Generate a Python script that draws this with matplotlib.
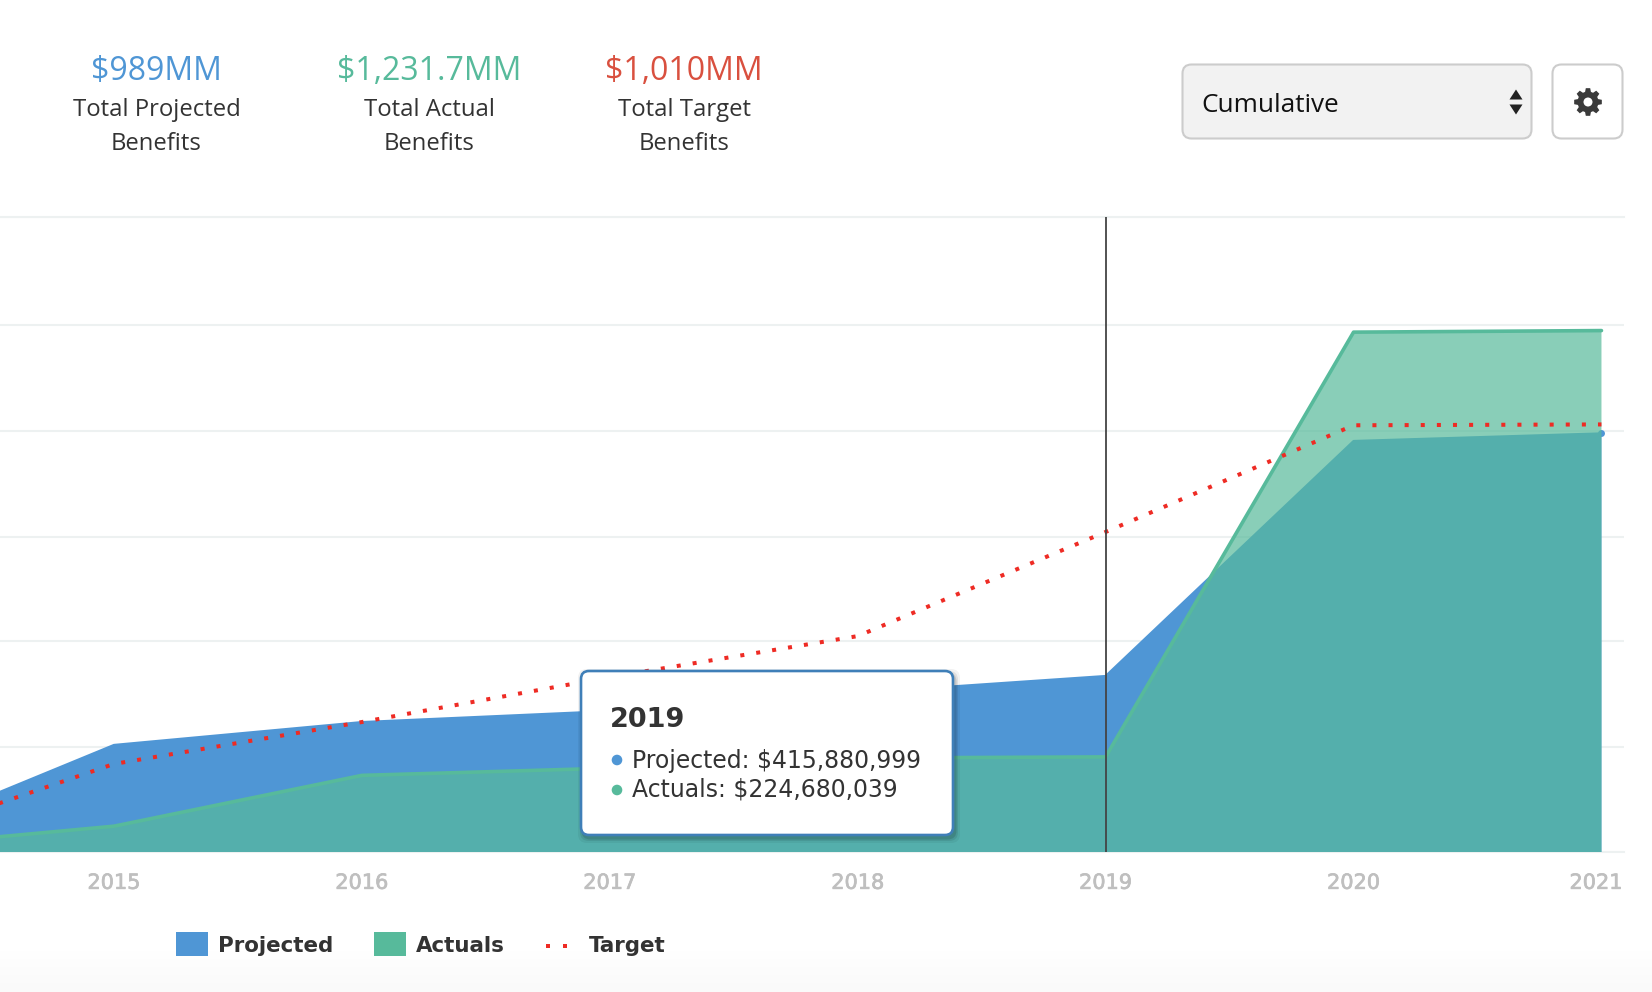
import numpy as np
import matplotlib
matplotlib.use('Agg')
import matplotlib.pyplot as plt
import matplotlib.patheffects as pe
from matplotlib.patches import FancyBboxPatch, Rectangle, Circle, Polygon, PathPatch
from matplotlib.path import Path
from matplotlib.transforms import ScaledTranslation

# yearly cumulative benefits in $MM, 2014 sits just off the left edge of the plot
years = [2014, 2015, 2016, 2017, 2018, 2019, 2020, 2021]
projected = [12, 253, 307, 333, 376, 415.880999, 971, 989]
actuals = [7, 61, 181, 198, 222, 224.680039, 1228, 1231.7]
target = [7, 208, 307, 413, 510, 756, 1008, 1010]

tick_years = [2015, 2016, 2017, 2018, 2019, 2020, 2021]
grid_values = [0, 248, 498, 744, 994, 1245, 1500]
hover_year = 2019

BLUE = '#4f96d5'
GREEN = '#57ba9b'
RED = '#ee2b24'
DARK = '#333333'
HEAD_FONT = 'Open Sans'
W, H = 1652, 992

fig = plt.figure(figsize=(W / 100, H / 100), dpi=100, facecolor='white')

# faint grey fade along the bottom of the page
bg = fig.add_axes([0, 0, 1, 1], zorder=0)
bg.axis('off')
fade = np.concatenate([np.zeros(950), np.linspace(0, 1, 42)]).reshape(-1, 1)
bg.imshow(fade, cmap=matplotlib.colors.LinearSegmentedColormap.from_list('fade', ['#ffffff', '#fafafa']),
          aspect='auto', extent=(0, W, H, 0), vmin=0, vmax=1)

# main area chart
ax = fig.add_axes([0, (H - 852) / H, 1624 / W, 635 / H], zorder=1)
ax.patch.set_alpha(0)
px_per_year = 247.6
ax.set_xlim(2015 - 113.8 / px_per_year, 2021 + 22.5 / px_per_year)
ax.set_ylim(0, 1500)
for side in ax.spines.values():
    side.set_visible(False)
ax.set_yticks(grid_values)
ax.set_yticklabels([])
ax.tick_params(axis='y', length=0)
ax.grid(axis='y', color='#edf1f1', lw=1.5, zorder=0)
ax.set_axisbelow(True)
for v in grid_values[:1] + grid_values[-1:]:
    ax.axhline(v, color='#edf1f1', lw=1.5, clip_on=False, zorder=0)

ax.fill_between(years, projected, 0, color=BLUE, lw=0, zorder=2)
ax.plot(years, projected, color=BLUE, lw=1.5, zorder=2)
ax.fill_between(years, actuals, 0, color=GREEN, alpha=0.7, lw=0, zorder=3)
ax.plot(years, actuals, color=GREEN, lw=2.6, solid_capstyle='round', zorder=4)
ax.plot(years[-1], projected[-1], 'o', color=BLUE, ms=5, mew=0, clip_on=False, zorder=2)
ax.plot(years, target, color=RED, lw=2.9, linestyle=(0, (1, 3)), zorder=5)
ax.axvline(hover_year, color='#444444', lw=1.3, zorder=6)

ax.set_xticks(tick_years)
ax.set_xticklabels([str(y) for y in tick_years], family='DejaVu Sans', fontsize=15,
                   color='#bfbfbf', path_effects=[pe.withStroke(linewidth=0.5, foreground='#bfbfbf')])
ax.tick_params(axis='x', length=0, pad=15)
# the last year label is pulled in so it stays inside the plot width
last = ax.get_xticklabels()[-1]
last.set_transform(last.get_transform() + ScaledTranslation(-5.5 / 100, 0, fig.dpi_scale_trans))

# everything else is placed in page pixels on an overlay
ui = fig.add_axes([0, 0, 1, 1], zorder=2)
ui.set_xlim(0, W)
ui.set_ylim(H, 0)
ui.axis('off')


def round_box(x0, y0, x1, y1, radius, **kw):
    box = FancyBboxPatch((x0 + radius, y0 + radius), x1 - x0 - 2 * radius, y1 - y0 - 2 * radius,
                         boxstyle='round,pad=%g,rounding_size=%g' % (radius, radius), **kw)
    ui.add_patch(box)
    return box


def gear(cx, cy, r_out, r_in, r_hole, teeth=8):
    pts = []
    step = 2 * np.pi / teeth
    for i in range(teeth):
        a = i * step
        pts.append((a - step * 0.36, r_in))
        pts.append((a - step * 0.2, r_out))
        pts.append((a + step * 0.2, r_out))
        pts.append((a + step * 0.36, r_in))
    verts = [(cx + r * np.cos(a), cy + r * np.sin(a)) for a, r in pts]
    codes = [Path.MOVETO] + [Path.LINETO] * (len(verts) - 1)
    verts.append(verts[0])
    codes.append(Path.CLOSEPOLY)
    ui.add_patch(PathPatch(Path(verts, codes), fc='#3a3a3a', ec='none'))
    ui.add_patch(Circle((cx, cy), r_hole, fc='white', ec='none'))


# summary numbers
summary = [(156.5, '$989MM', BLUE, 'Total Projected'),
           (429, '$1,231.7MM', GREEN, 'Total Actual'),
           (684, '$1,010MM', '#d9503f', 'Total Target')]
for x, amount, col, label in summary:
    ui.text(x, 71.5, amount, color=col, family=HEAD_FONT, fontsize=23, ha='center', va='center')
    ui.text(x, 109.5, label, color=DARK, family=HEAD_FONT, fontsize=17.2, ha='center', va='center')
    ui.text(x, 144, 'Benefits', color=DARK, family=HEAD_FONT, fontsize=17.2, ha='center', va='center')

# dropdown and settings button
round_box(1182.5, 64.5, 1531.5, 138.5, 9, fc='#f2f2f2', ec='#cccccc', lw=1.5)
ui.text(1201, 105, 'Cumulative', color='#111111', family=HEAD_FONT, fontsize=18.8, ha='left', va='center')
ui.add_patch(Polygon([(1509.5, 99.5), (1522.5, 99.5), (1516, 89.5)], fc='#222222', ec='none'))
ui.add_patch(Polygon([(1509.5, 104.5), (1522.5, 104.5), (1516, 114.5)], fc='#222222', ec='none'))
round_box(1552.5, 64.5, 1622.5, 138.5, 9, fc='white', ec='#cccccc', lw=1.5)
gear(1588, 102, 14, 10.5, 4.5)

# hover tooltip with a soft shadow
for grow, alpha in [(5, 0.05), (3, 0.08), (1.5, 0.12)]:
    round_box(581 - grow + 2, 671 - grow + 3, 953 + grow + 2, 835 + grow + 3, 9,
              fc='black', ec='none', alpha=alpha)
round_box(581, 671, 953, 835, 8, fc='white', ec='#3f7fb8', lw=1.9)
ui.text(610, 720, str(hover_year), color=DARK, family='DejaVu Sans', fontweight='bold',
        fontsize=19.5, ha='left', va='center')
hover_i = years.index(hover_year)
ui.add_patch(Circle((617, 760), 5.3, fc=BLUE, ec='none'))
ui.text(632, 761, 'Projected: ${:,.0f}'.format(projected[hover_i] * 1e6), color=DARK,
        family='DejaVu Sans', fontsize=16.95, ha='left', va='center')
ui.add_patch(Circle((617, 790), 5.3, fc=GREEN, ec='none'))
ui.text(632, 790, 'Actuals: ${:,.0f}'.format(actuals[hover_i] * 1e6), color=DARK,
        family='DejaVu Sans', fontsize=16.95, ha='left', va='center')

# legend
ui.add_patch(Rectangle((176, 932), 32, 24, fc=BLUE, ec='none'))
ui.text(218, 946, 'Projected', color=DARK, family='DejaVu Sans', fontweight='bold',
        fontsize=15.4, ha='left', va='center')
ui.add_patch(Rectangle((373.5, 932), 32, 24, fc=GREEN, ec='none'))
ui.text(416, 946, 'Actuals', color=DARK, family='DejaVu Sans', fontweight='bold',
        fontsize=15.4, ha='left', va='center')
for x in (548, 565):
    ui.add_patch(Rectangle((x - 1.75, 944), 3.5, 3.5, fc=RED, ec='none'))
ui.text(589, 946, 'Target', color=DARK, family='DejaVu Sans', fontweight='bold',
        fontsize=15.4, ha='left', va='center')

fig.savefig('out.png', dpi=100)
